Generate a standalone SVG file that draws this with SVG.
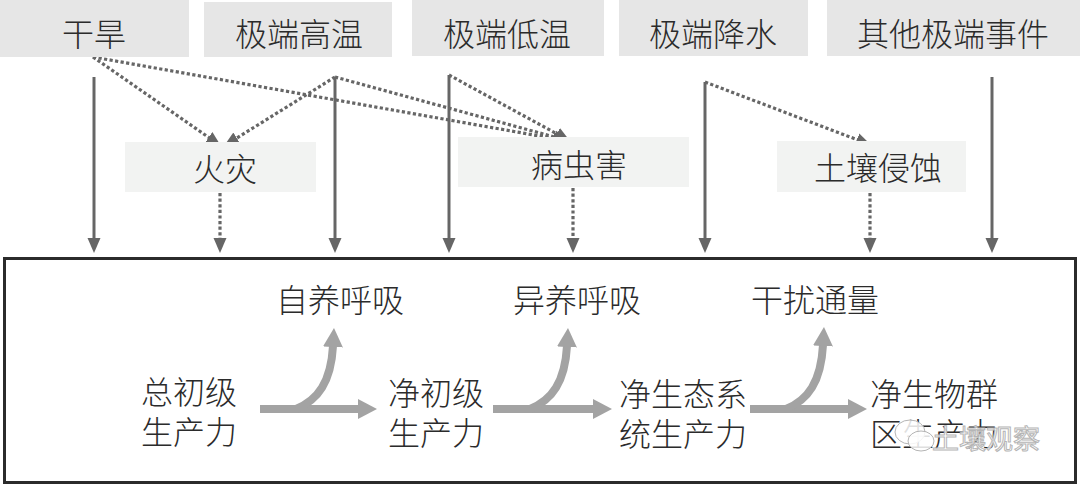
<svg xmlns="http://www.w3.org/2000/svg" width="1080" height="486" viewBox="0 0 1080 486">
<style>
  .t{font-family:"Noto Sans CJK SC","Noto Sans",sans-serif;font-size:32px;fill:#2b2b2b;font-weight:300}
  .c{text-anchor:middle;dominant-baseline:central}
  .top{fill:#e6e6e6}
  .mid{fill:#f2f3f2}
  .solid{stroke:#666;stroke-width:3;fill:none}
  .dot{stroke:#666;stroke-width:3.2;fill:none;stroke-dasharray:3.2 2.4}
  .thick{stroke:#a3a3a3;stroke-width:8;fill:none}
  .wm{font-family:"Noto Sans CJK SC","Noto Sans",sans-serif;font-size:27px;fill:#fff;stroke:#b5b5b5;stroke-width:1;fill-opacity:0.8}
</style>
<defs>
  <marker id="ah" markerUnits="userSpaceOnUse" markerWidth="16" markerHeight="14" viewBox="0 0 16 14" refX="1" refY="7" orient="auto">
    <path d="M0,0.5 L15,7 L0,13.5 Z" fill="#666"/>
  </marker>
  <marker id="th" markerUnits="userSpaceOnUse" markerWidth="20" markerHeight="22" viewBox="0 0 20 22" refX="1" refY="11" orient="auto">
    <path d="M0,1 L19,11 L0,21 Z" fill="#a3a3a3"/>
  </marker>
</defs>
<rect width="1080" height="486" fill="#fff"/>

<g id="connectors">
  <line class="solid" x1="94" y1="77" x2="94" y2="239" marker-end="url(#ah)"/>
  <line class="solid" x1="335" y1="77" x2="335" y2="239" marker-end="url(#ah)"/>
  <line class="solid" x1="449" y1="75" x2="449" y2="239" marker-end="url(#ah)"/>
  <line class="solid" x1="705" y1="82" x2="705" y2="239" marker-end="url(#ah)"/>
  <line class="solid" x1="992" y1="77" x2="992" y2="239" marker-end="url(#ah)"/>
  <line class="dot" x1="220" y1="193" x2="220" y2="239" marker-end="url(#ah)"/>
  <line class="dot" x1="573" y1="188" x2="573" y2="239" marker-end="url(#ah)"/>
  <line class="dot" x1="870" y1="193" x2="870" y2="239" marker-end="url(#ah)"/>

  <line class="dot" x1="93" y1="57" x2="209.5" y2="138" marker-end="url(#ah)"/>
  <line class="dot" x1="335" y1="77" x2="235.9" y2="138.6" marker-end="url(#ah)"/>
  <line class="dot" x1="93" y1="57" x2="554.2" y2="138.6" marker-end="url(#ah)"/>
  <line class="dot" x1="335" y1="77" x2="555.5" y2="137.3" marker-end="url(#ah)"/>
  <line class="dot" x1="449" y1="75" x2="557.7" y2="134.3" marker-end="url(#ah)"/>
  <line class="dot" x1="705" y1="82" x2="857.9" y2="140" marker-end="url(#ah)"/>

  <path class="thick" d="M260,409 H359" marker-end="url(#th)"/>
  <path class="thick" d="M296,409 C318,400 331,382 333,346" marker-end="url(#th)"/>
  <path class="thick" d="M493,409 H594" marker-end="url(#th)"/>
  <path class="thick" d="M530,409 C552,400 565,382 567,346" marker-end="url(#th)"/>
  <path class="thick" d="M750,409 H849" marker-end="url(#th)"/>
  <path class="thick" d="M786,409 C808,400 821,382 823,345" marker-end="url(#th)"/>
</g>

<g id="node-ganhan"><rect class="top" x="0" y="0" width="189" height="57"/><text class="t c" x="94" y="32">干旱</text></g>
<g id="node-gaowen"><rect class="top" x="204" y="2" width="188" height="55"/><text class="t c" x="299" y="32">极端高温</text></g>
<g id="node-diwen"><rect class="top" x="412" y="0" width="192" height="56"/><text class="t c" x="507" y="32">极端低温</text></g>
<g id="node-jiangshui"><rect class="top" x="619" y="0" width="189" height="56"/><text class="t c" x="713" y="32">极端降水</text></g>
<g id="node-qita"><rect class="top" x="827" y="0" width="253" height="56"/><text class="t c" x="953" y="32">其他极端事件</text></g>

<g id="node-huozai"><rect class="mid" x="125" y="142" width="191" height="50"/><text class="t c" x="225" y="167">火灾</text></g>
<g id="node-bingchonghai"><rect class="mid" x="458" y="137" width="231" height="50"/><text class="t c" x="579" y="163">病虫害</text></g>
<g id="node-qinshi"><rect class="mid" x="777" y="141" width="189" height="51"/><text class="t c" x="878" y="166">土壤侵蚀</text></g>

<g id="node-ecosystem"><rect x="4.5" y="258.5" width="1071" height="224" fill="none" stroke="#2b2b2b" stroke-width="3"/></g>

<g id="node-gpp"><text class="t c" x="189"><tspan x="189" y="390">总初级</tspan><tspan x="189" y="430">生产力</tspan></text></g>
<g id="node-npp"><text class="t c" x="436"><tspan x="436" y="391">净初级</tspan><tspan x="436" y="431">生产力</tspan></text></g>
<g id="node-nep"><text class="t c" x="683"><tspan x="683" y="392">净生态系</tspan><tspan x="683" y="432">统生产力</tspan></text></g>
<g id="node-nbp"><text class="t c" x="934"><tspan x="934" y="392">净生物群</tspan><tspan x="934" y="432">区生产力</tspan></text></g>
<g id="node-ra"><text class="t c" x="340" y="298">自养呼吸</text></g>
<g id="node-rh"><text class="t c" x="577" y="298">异养呼吸</text></g>
<g id="node-flux"><text class="t c" x="815" y="298">干扰通量</text></g>

<g id="watermark">
  <ellipse cx="910" cy="432" rx="15" ry="12" fill="#fff" fill-opacity="0.85" stroke="#b5b5b5" stroke-width="1"/>
  <ellipse cx="921" cy="441" rx="13" ry="10" fill="#fff" fill-opacity="0.85" stroke="#b5b5b5" stroke-width="1"/>
  <text class="wm" x="932" y="449">土壤观察</text>
</g>
</svg>
